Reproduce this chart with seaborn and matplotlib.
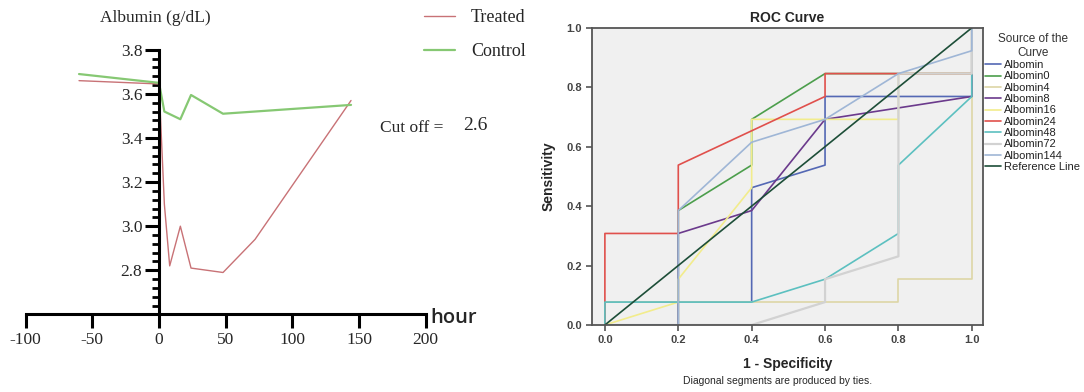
import seaborn as sns
import matplotlib.pyplot as plt
from matplotlib.ticker import MultipleLocator

# ---- albumin time course (left panel)
treated_hours = [-60, 0, 4, 8, 16, 24, 48, 72, 144]
treated = [3.66, 3.645, 3.10, 2.82, 3.00, 2.81, 2.79, 2.94, 3.57]
control_hours = [-60, 0, 4, 16, 24, 48, 72, 144]
control = [3.69, 3.65, 3.52, 3.485, 3.595, 3.51, 3.52, 3.55]

x_ticks = [-100, -50, 0, 50, 100, 150, 200]
y_ticks = [2.8, 3.0, 3.2, 3.4, 3.6, 3.8]

# ---- ROC curves (right panel)
roc_names = ['Albomin', 'Albomin0', 'Albomin4', 'Albomin8', 'Albomin16',
             'Albomin24', 'Albomin48', 'Albomin72', 'Albomin144']
roc_fpr = [
    [0.0, 0.0, 0.4, 0.4, 0.6, 0.6, 1.0, 1.0],
    [0.0, 0.2, 0.2, 0.4, 0.4, 0.6, 0.8, 1.0, 1.0],
    [0.0, 0.0, 0.8, 0.8, 1.0, 1.0],
    [0.0, 0.2, 0.2, 0.4, 0.6, 1.0, 1.0],
    [0.0, 0.2, 0.2, 0.4, 0.4, 0.8, 0.8, 1.0, 1.0],
    [0.0, 0.0, 0.2, 0.2, 0.6, 0.6, 0.8, 1.0, 1.0],
    [0.0, 0.0, 0.4, 0.6, 0.8, 0.8, 1.0, 1.0],
    [0.0, 0.4, 0.6, 0.6, 0.8, 0.8, 1.0, 1.0],
    [0.0, 0.2, 0.2, 0.4, 0.6, 0.8, 1.0, 1.0],
]
roc_tpr = [
    [0.0, 0.077, 0.077, 0.462, 0.538, 0.769, 0.769, 1.0],
    [0.0, 0.0, 0.385, 0.538, 0.692, 0.846, 0.846, 0.846, 1.0],
    [0.0, 0.077, 0.077, 0.154, 0.154, 1.0],
    [0.0, 0.0, 0.308, 0.385, 0.692, 0.769, 1.0],
    [0.0, 0.077, 0.154, 0.462, 0.692, 0.692, 0.846, 0.846, 1.0],
    [0.0, 0.308, 0.308, 0.538, 0.769, 0.846, 0.846, 0.846, 1.0],
    [0.0, 0.077, 0.077, 0.154, 0.308, 0.538, 0.769, 1.0],
    [0.0, 0.0, 0.077, 0.154, 0.231, 0.846, 0.846, 1.0],
    [0.0, 0.0, 0.385, 0.615, 0.692, 0.846, 0.923, 1.0],
]
roc_colors = ['#5468b4', '#4c9e4c', '#ddd6a6', '#6b3a8c', '#f2ec8c',
              '#e0504c', '#5cc0c0', '#d2d2d2', '#9fb6d6']
roc_ticks = [0.0, 0.2, 0.4, 0.6, 0.8, 1.0]

sns.set_style('white')
plt.rcParams['font.family'] = ['DejaVu Sans']
plt.rcParams['axes.unicode_minus'] = False
serif = 'Liberation Serif'
sans = 'Liberation Sans'

fig = plt.figure(figsize=(10.84, 3.92), dpi=100)

# ================= left panel
ax1 = fig.add_axes([0.0237, 0.198, 0.369, 0.675])
sns.lineplot(x=treated_hours, y=treated, sort=False, color='#c87276',
             linewidth=1.0, label='Treated', ax=ax1)
sns.lineplot(x=control_hours, y=control, sort=False, color='#86c873',
             linewidth=1.6, label='Control', ax=ax1)

ax1.set_xlim(-100, 200)
ax1.set_ylim(2.6, 3.8)
for s in ['top', 'right']:
    ax1.spines[s].set_visible(False)
ax1.spines['left'].set_position(('data', 0))
for s in ['left', 'bottom']:
    ax1.spines[s].set_linewidth(2.2)
    ax1.spines[s].set_color('black')
ax1.set_xticks(x_ticks)
ax1.set_yticks(y_ticks)
ax1.yaxis.set_minor_locator(MultipleLocator(0.04))
ax1.tick_params(axis='x', which='major', bottom=True, direction='out',
                length=10, width=2.2, pad=3, labelsize=12.5, color='black')
ax1.tick_params(axis='y', which='major', left=True, direction='out',
                length=10, width=2.2, pad=2, labelsize=12.5, color='black')
ax1.tick_params(axis='y', which='minor', left=True, direction='out',
                length=5, width=2, color='black')
for lab in ax1.get_xticklabels() + ax1.get_yticklabels():
    lab.set_family(serif)
ax1.set_xlabel('')
ax1.set_ylabel('')
ax1.set_facecolor('white')

ax1.legend(loc='upper left', bbox_to_anchor=(424 / 1084, 1 - 9 / 392),
           bbox_transform=fig.transFigure, frameon=False, borderpad=0,
           borderaxespad=0, handlelength=1.7, handletextpad=0.9,
           labelspacing=0.95, prop={'family': serif, 'size': 13})

fig.text(155 / 1084, 1 - 18 / 392, 'Albumin (g/dL)', ha='center',
         va='center', family=serif, fontsize=12.5)
fig.text(430 / 1084, 1 - 318 / 392, 'hour', ha='left', va='center',
         family='Open Sans', fontsize=14.5, fontweight='semibold')
fig.text(380 / 1084, 1 - 128 / 392, 'Cut off = ', ha='left', va='center',
         family=serif, fontsize=12.5)
fig.text(463 / 1084, 1 - 125 / 392, '2.6', ha='left', va='center',
         family=serif, fontsize=14)

# ================= right panel
ax2 = fig.add_axes([0.546, 0.171, 0.361, 0.758])
ax2.set_facecolor('#f0f0f0')
for name, fx, ty, c in zip(roc_names, roc_fpr, roc_tpr, roc_colors):
    lw = 1.6 if name == 'Albomin72' else 1.2
    sns.lineplot(x=fx, y=ty, sort=False, estimator=None, color=c,
                 linewidth=lw, label=name, ax=ax2)
sns.lineplot(x=[0, 1], y=[0, 1], sort=False, color='#1d4e38', linewidth=1.2,
             label='Reference Line', ax=ax2)

ax2.set_xlim(-0.0355, 1.031)
ax2.set_ylim(0, 1.0)
ax2.set_xticks(roc_ticks)
ax2.set_yticks(roc_ticks)
ax2.set_xticklabels([f'{v:.1f}' for v in roc_ticks])
ax2.set_yticklabels([f'{v:.1f}' for v in roc_ticks])
for s in ax2.spines.values():
    s.set_color('#555555')
    s.set_linewidth(1.3)
ax2.tick_params(bottom=True, left=True, direction='out', length=4, width=1.2,
                color='#555555', labelsize=8, labelcolor='#444444', pad=3)
for lab in ax2.get_xticklabels() + ax2.get_yticklabels():
    lab.set_family(sans)
    lab.set_fontweight('bold')
ax2.set_xlabel('1 - Specificity', family=sans, fontweight='bold',
               fontsize=10, labelpad=9)
ax2.set_ylabel('Sensitivity', family=sans, fontweight='bold', fontsize=10,
               labelpad=8)
ax2.set_title('ROC Curve', family=sans, fontweight='bold', fontsize=10,
              pad=4)

leg = ax2.legend(loc='upper left', bbox_to_anchor=(985 / 1084, 1 - 33 / 392),
                 bbox_transform=fig.transFigure, frameon=False, borderpad=0,
                 borderaxespad=0, handlelength=1.45, handletextpad=0.3,
                 labelspacing=0.12, title='Source of the\nCurve',
                 prop={'family': sans, 'size': 8})
leg.get_title().set_family(sans)
leg.get_title().set_fontsize(8.5)
leg.get_title().set_color('#333333')
leg.get_title().set_multialignment('center')
for t in leg.get_texts():
    t.set_color('#222222')

fig.text(778 / 1084, 1 - 381 / 392, 'Diagonal segments are produced by ties.',
         ha='center', va='center', family=sans, fontsize=7.5)

fig.savefig('out.png', dpi=100)
